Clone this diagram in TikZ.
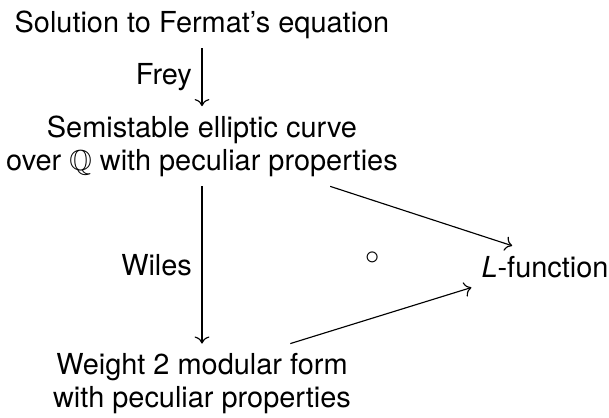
\documentclass[tikz,border=0pt]{standalone}
\usepackage{amssymb}
\usepackage{fontspec}
\setmainfont{TeX Gyre Heros}
\usetikzlibrary{positioning,arrows.meta}

\begin{document}
\begin{tikzpicture}[
  x=0.351pt, y=-0.351pt,
  obj/.style={align=center, anchor=base, font=\fontsize{10.15pt}{11.3pt}\selectfont},
  lbl/.style={font=\fontsize{10.15pt}{11.3pt}\selectfont},
  arr/.style={-{Computer Modern Rightarrow}, line width=0.4pt},
]
  \useasboundingbox (0,0) rectangle (609,417);

  % objects
  \node[obj] (sol) at (202,32) {Solution to Fermat's equation};
  \node[obj] (semi) at (202,170) {Semistable elliptic curve\\over $\mathbb{Q}$ with peculiar properties};
  \node[obj] (wt) at (202,407) {Weight 2 modular form\\with peculiar properties};
  \node[obj] (lf) at (545,277) {\textit{L}-function};
  \node (comm) at (373,258) {$\circ$};

  % arrows
  \draw[arr] (sol.south) -- node[left, lbl]{Frey} (semi.north);
  \draw[arr] (semi.south) -- node[left, lbl]{Wiles} (wt.north);
  \draw[arr] ([xshift=45pt]semi.south) -- ([xshift=-11.5pt]lf.north);
  \draw[arr] ([xshift=31pt]wt.north) -- (lf.south west);
\end{tikzpicture}
\end{document}
